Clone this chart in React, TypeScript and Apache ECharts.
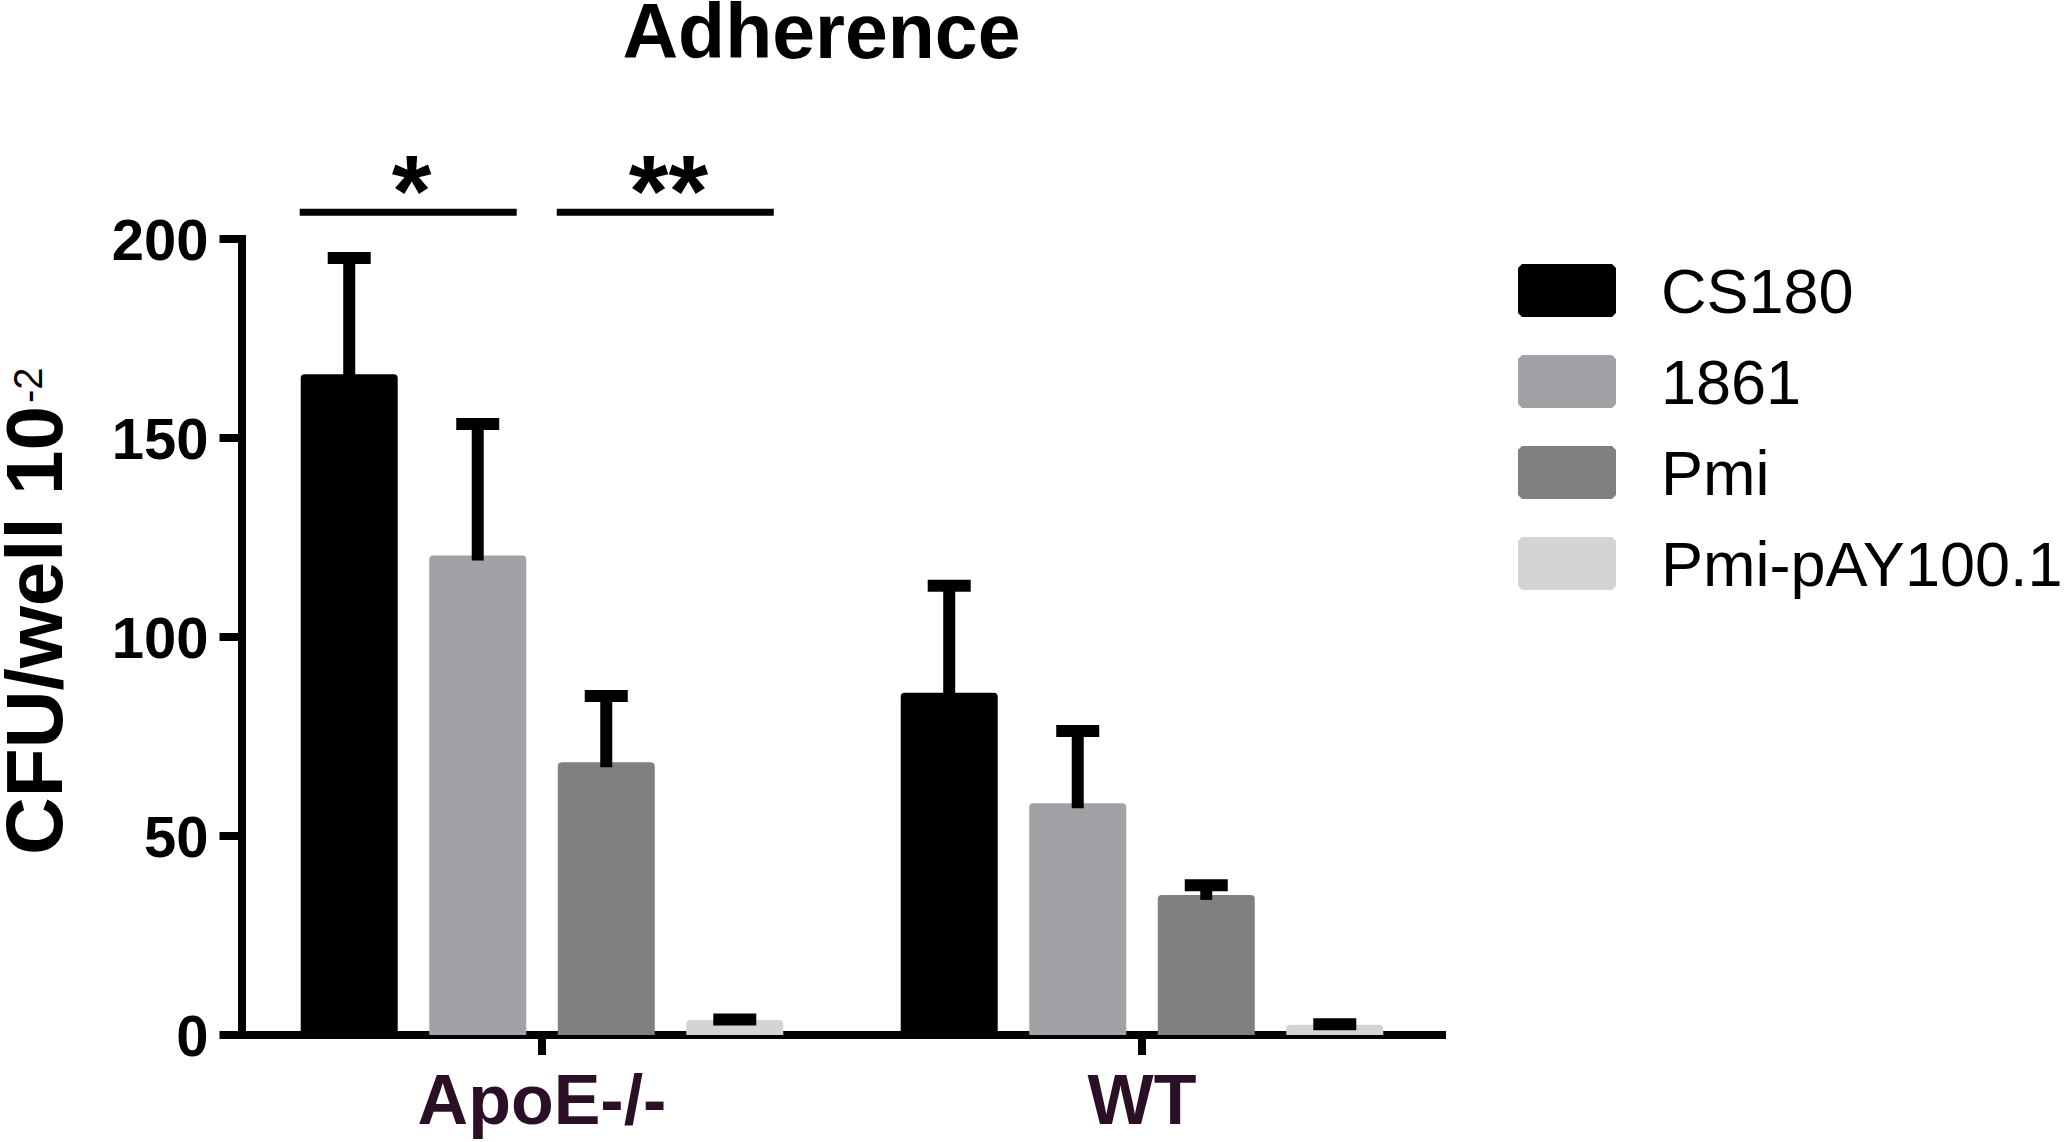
import React, { useEffect, useRef } from 'react';
import * as echarts from 'echarts';

// ---- data ----
const categories = ['ApoE-/-', 'WT'];
const seriesNames = ['CS180', '1861', 'Pmi', 'Pmi-pAY100.1'];
const seriesColors = ['#000000', '#a2a2a6', '#808080', '#d4d4d4'];
const cs180Mean = [166, 86];
const cs180Err = [29.2, 26.9];
const s1861Mean = [120.5, 58.2];
const s1861Err = [33, 18.2];
const pmiMean = [68.5, 35.2];
const pmiErr = [16.7, 2.4];
const pAYMean = [3.8, 2.6];
const pAYErr = [0.1, 0.1];
const yMin = 0;
const yMax = 200;
const yInterval = 50;
// significance brackets: [category index, from series, to series, level (y units)]
const sigPairs = [
  [0, 0, 1, 206.7],
  [0, 2, 3, 206.7],
];
const sigLabels = ['*', '**'];
const titleText = 'Adherence';
const yName = 'CFU/well 10';
const ySup = '-2';

const means = [cs180Mean, s1861Mean, pmiMean, pAYMean];
const errs = [cs180Err, s1861Err, pmiErr, pAYErr];

const FONT = '"Liberation Sans", Arial, Helvetica, sans-serif';
const BAR_W = 97;
const BAR_GAP = 0.325;
const PITCH = BAR_W * (1 + BAR_GAP);
const SIG_LEN = 217;

export default function App() {
  const ref = useRef<HTMLDivElement>(null);

  useEffect(() => {
    if (!ref.current) return;
    const chart = echarts.init(ref.current, undefined, { renderer: 'svg' });

    const errData: number[][] = [];
    means.forEach((m, s) => {
      m.forEach((v, c) => {
        errData.push([c, s, v, errs[s][c]]);
      });
    });

    const barSeries = seriesNames.map((name, i) => ({
      name,
      type: 'bar',
      data: means[i],
      barWidth: BAR_W,
      barGap: (BAR_GAP * 100) + '%',
      itemStyle: { color: seriesColors[i], borderRadius: [4, 4, 0, 0] },
      silent: true,
      z: 2,
    }));

    const option: any = {
      animation: false,
      backgroundColor: '#ffffff',
      textStyle: { fontFamily: FONT },
      grid: { left: 242, top: 239, width: 1200, height: 796, containLabel: false },
      legend: {
        orient: 'vertical',
        left: 1513,
        top: 254,
        itemWidth: 98,
        itemHeight: 53,
        itemGap: 28,
        icon: 'path://M4,0L94,0L98,4L98,49L94,53L4,53L0,49L0,4Z',
        data: seriesNames,
        selectedMode: false,
        textStyle: {
          fontSize: 63,
          fontFamily: FONT,
          color: '#000',
          padding: [0, 0, 0, 40],
        },
      },
      xAxis: {
        type: 'category',
        data: categories,
        axisLine: { show: true, lineStyle: { color: '#000', width: 8, cap: 'square' } },
        axisTick: { show: true, alignWithLabel: true, interval: 0, length: 20, lineStyle: { color: '#000', width: 8 } },
        axisLabel: {
          color: '#2b0f27',
          fontSize: 70,
          fontWeight: 'bold',
          fontFamily: FONT,
          margin: 30,
          lineHeight: 70,
          interval: 0,
        },
        splitLine: { show: false },
      },
      yAxis: {
        type: 'value',
        min: yMin,
        max: yMax,
        interval: yInterval,
        axisLine: { show: true, lineStyle: { color: '#000', width: 8, cap: 'square' } },
        axisTick: { show: true, length: 22.5, lineStyle: { color: '#000', width: 8 } },
        axisLabel: {
          color: '#000',
          fontSize: 58,
          fontWeight: 'bold',
          fontFamily: FONT,
          margin: 33.5,
        },
        splitLine: { show: false },
      },
      graphic: [
        {
          type: 'text',
          x: 821.5,
          y: 31,
          style: {
            text: titleText,
            fontSize: 77,
            fontWeight: 'bold',
            fontFamily: FONT,
            fill: '#000',
            align: 'center',
            verticalAlign: 'middle',
            lineHeight: 60,
          },
        },
        {
          type: 'text',
          x: 34.3,
          y: 855,
          rotation: Math.PI / 2,
          style: {
            text: yName,
            fontSize: 80,
            fontWeight: 'bold',
            fontFamily: FONT,
            fill: '#000',
            align: 'left',
            verticalAlign: 'middle',
            lineHeight: 66,
          },
        },
        {
          type: 'text',
          x: 28,
          y: 403,
          rotation: Math.PI / 2,
          style: {
            text: ySup,
            fontSize: 40,
            fontFamily: FONT,
            fill: '#000',
            align: 'left',
            verticalAlign: 'middle',
            lineHeight: 40,
          },
        },
      ],
      series: [
        ...barSeries,
        {
          name: 'errorbars',
          type: 'custom',
          silent: true,
          clip: false,
          z: 5,
          dimensions: ['cat', 'ser', 'mean', 'err'],
          encode: { x: 0, y: 2 },
          data: errData,
          renderItem: (params: any, api: any) => {
            const cat = api.value(0);
            const s = api.value(1);
            const mean = api.value(2);
            const err = api.value(3);
            const cx = api.coord([cat, 0])[0] + (s - 1.5) * PITCH;
            const yTop = api.coord([cat, mean + err])[1];
            const yBar = api.coord([cat, mean])[1];
            return {
              type: 'group',
              children: [
                {
                  type: 'rect',
                  shape: { x: cx - 6, y: yTop, width: 12, height: Math.max(0, yBar - yTop + 5) },
                  style: { fill: '#000' },
                },
                {
                  type: 'rect',
                  shape: { x: cx - 21.5, y: yTop - 6, width: 43, height: 12 },
                  style: { fill: '#000' },
                },
              ],
            };
          },
        },
        {
          name: 'significance',
          type: 'custom',
          silent: true,
          clip: false,
          z: 5,
          dimensions: ['cat', 'from', 'to', 'level'],
          encode: { x: 0, y: 3 },
          data: sigPairs,
          renderItem: (params: any, api: any) => {
            const cat = api.value(0);
            const from = api.value(1);
            const to = api.value(2);
            const level = api.value(3);
            const base = api.coord([cat, 0])[0];
            const xFrom = base + (from - 1.5) * PITCH;
            const xTo = base + (to - 1.5) * PITCH;
            const y = api.coord([cat, level])[1];
            const x1 = xFrom - BAR_W / 2 - 1;
            const x2 = x1 + SIG_LEN;
            return {
              type: 'group',
              children: [
                {
                  type: 'rect',
                  shape: { x: x1, y: y - 3.5, width: x2 - x1, height: 7 },
                  style: { fill: '#000' },
                },
                {
                  type: 'text',
                  x: (xFrom + xTo) / 2 - 2,
                  y: y - 21,
                  style: {
                    text: sigLabels[params.dataIndex],
                    fontSize: 102,
                    fontWeight: 'bold',
                    fontFamily: FONT,
                    fill: '#000',
                    align: 'center',
                    verticalAlign: 'middle',
                    lineHeight: 60,
                  },
                },
              ],
            };
          },
        },
      ],
    };

    chart.setOption(option);
    return () => chart.dispose();
  }, []);

  return (
    <div
      ref={ref}
      style={{ position: 'absolute', left: 0, top: 0, width: '2067px', height: '1142px', background: '#fff' }}
    />
  );
}
